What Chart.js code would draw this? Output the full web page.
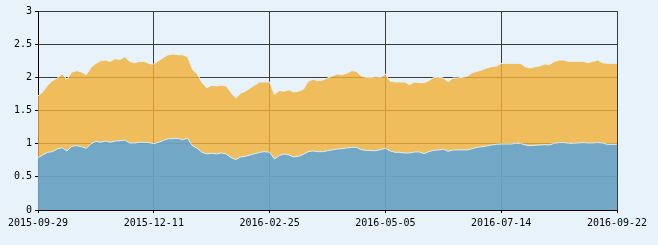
<!DOCTYPE html>
<html>
<head>
<meta charset="utf-8">
<script src="https://cdn.jsdelivr.net/npm/chart.js@4/dist/chart.umd.min.js"></script>
<style>
    html, body { margin: 0; padding: 0; background: #e7f2fb; }
    #wrap { width: 658px; height: 245px; }
</style>
</head>
<body>
<div id="wrap"><canvas id="chart" width="658" height="245"></canvas></div>
<script>
// x tick labels (one every 48 trading days, 240 days in all)
const tickLabels = ['2015-09-29', '2015-12-11', '2016-02-25', '2016-05-05', '2016-07-14', '2016-09-22'];
const dayStep = 2;   // a value is read every second trading day

// lower (blue) series
const blueValues = [
    0.79, 0.83, 0.87, 0.88, 0.92, 0.94, 0.89, 0.96, 0.97, 0.955,
    0.93, 1.00, 1.035, 1.02, 1.04, 1.02, 1.04, 1.045, 1.055, 1.01,
    1.01, 1.02, 1.02, 1.015, 1.00, 1.02, 1.05, 1.075, 1.075, 1.08,
    1.06, 1.08, 0.97, 0.93, 0.87, 0.845, 0.855, 0.845, 0.86, 0.845,
    0.79, 0.76, 0.80, 0.81, 0.83, 0.85, 0.87, 0.88, 0.87, 0.77,
    0.82, 0.845, 0.83, 0.80, 0.81, 0.84, 0.88, 0.89, 0.88, 0.88,
    0.895, 0.905, 0.92, 0.925, 0.935, 0.945, 0.945, 0.91, 0.90, 0.895,
    0.895, 0.91, 0.93, 0.89, 0.87, 0.87, 0.86, 0.86, 0.875, 0.875,
    0.85, 0.88, 0.90, 0.905, 0.915, 0.885, 0.905, 0.905, 0.905, 0.905,
    0.925, 0.945, 0.955, 0.965, 0.98, 0.99, 0.995, 0.995, 0.995, 1.005,
    1.005, 0.98, 0.97, 0.975, 0.98, 0.985, 0.98, 1.005, 1.015, 1.015,
    1.005, 1.005, 1.01, 1.015, 1.01, 1.01, 1.015, 1.01, 0.99, 0.99,
    0.99
];

// upper (orange) series, stacked on the blue one
const orangeValues = [
    0.93, 0.95, 1.01, 1.07, 1.07, 1.11, 1.08, 1.12, 1.13, 1.125,
    1.11, 1.15, 1.175, 1.23, 1.22, 1.22, 1.24, 1.225, 1.255, 1.23,
    1.21, 1.22, 1.22, 1.195, 1.20, 1.23, 1.25, 1.265, 1.275, 1.26,
    1.28, 1.23, 1.15, 1.12, 1.05, 0.995, 1.025, 1.025, 1.02, 1.025,
    0.98, 0.93, 0.96, 0.98, 1.01, 1.04, 1.06, 1.05, 1.06, 0.97,
    0.98, 0.945, 0.98, 0.98, 0.98, 0.98, 1.06, 1.08, 1.07, 1.08,
    1.095, 1.115, 1.13, 1.115, 1.125, 1.155, 1.145, 1.11, 1.10, 1.105,
    1.115, 1.09, 1.12, 1.05, 1.06, 1.06, 1.07, 1.03, 1.055, 1.045,
    1.07, 1.07, 1.10, 1.095, 1.075, 1.045, 1.085, 1.085, 1.095, 1.115,
    1.145, 1.145, 1.155, 1.175, 1.18, 1.18, 1.215, 1.215, 1.215, 1.205,
    1.205, 1.18, 1.17, 1.185, 1.19, 1.215, 1.21, 1.235, 1.245, 1.245,
    1.235, 1.235, 1.23, 1.225, 1.21, 1.23, 1.245, 1.21, 1.22, 1.22,
    1.22
];

const fontFamily = '"DejaVu Sans Mono", "Liberation Mono", monospace';
const gridColor = '#3c3c3c';

const toPoints = vals => vals.map((v, i) => ({ x: i * dayStep, y: v }));

new Chart(document.getElementById('chart').getContext('2d'), {
    type: 'line',
    data: {
        datasets: [
            {
                data: toPoints(blueValues),
                backgroundColor: 'rgba(108,162,194,0.95)',
                borderColor: '#dcecf6',
                borderWidth: 1,
                pointRadius: 0,
                tension: 0,
                fill: 'origin',
            },
            {
                data: toPoints(orangeValues),
                backgroundColor: 'rgba(241,175,51,0.8)',
                borderColor: '#e4f0f8',
                borderWidth: 1,
                pointRadius: 0,
                tension: 0,
                fill: '-1',
            }
        ]
    },
    options: {
        responsive: false,
        animation: false,
        layout: { padding: { top: 11, right: 41, left: 0, bottom: 0 } },
        plugins: {
            legend: { display: false },
            tooltip: { enabled: false }
        },
        scales: {
            x: {
                type: 'linear',
                min: 0,
                max: 240,
                afterFit: s => { s.height = 35; },
                afterBuildTicks: s => {
                    s.ticks = tickLabels.map((_, i) => ({ value: i * 48 }));
                },
                grid: { color: gridColor, tickColor: '#000', tickLength: 3 },
                border: { color: '#000' },
                ticks: {
                    font: { family: fontFamily, size: 10 },
                    color: '#000',
                    padding: 4,
                    maxRotation: 0,
                    autoSkip: false,
                    callback: v => tickLabels[v / 48]
                }
            },
            y: {
                stacked: true,
                min: 0,
                max: 3,
                afterFit: s => { s.width = 38; },
                grid: { color: gridColor, tickColor: '#000', tickLength: 3 },
                border: { color: '#000' },
                ticks: {
                    stepSize: 0.5,
                    font: { family: fontFamily, size: 10 },
                    color: '#000',
                    padding: 3,
                    callback: v => String(v)
                }
            }
        }
    }
});
</script>
</body>
</html>
